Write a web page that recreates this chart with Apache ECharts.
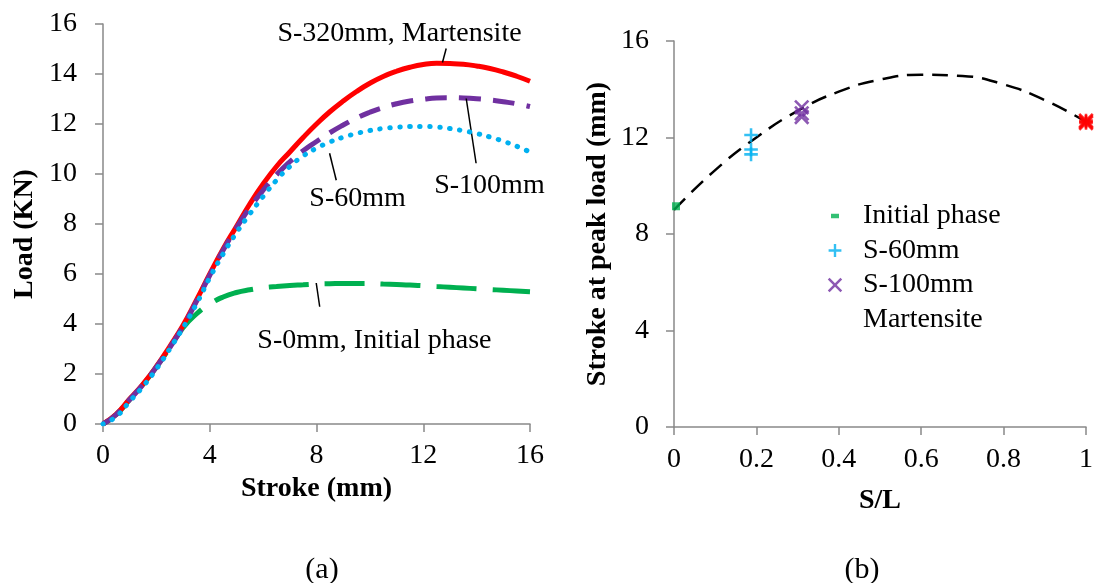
<!DOCTYPE html>
<html>
<head>
<meta charset="utf-8">
<script src="https://cdn.jsdelivr.net/npm/echarts@6/dist/echarts.min.js"></script>
<style>
html,body{margin:0;padding:0;background:#fff;}
#chart{width:1096px;height:583px;}
</style>
</head>
<body>
<div id="chart"></div>
<script>
// ---------- (a) Load vs stroke ----------
var strokeMm = [0,0.5,1,1.5,2,2.5,3,3.5,4,4.5,5,5.5,6,6.5,7,7.5,8,8.5,9,9.5,10,10.5,11,11.5,12,12.5,13,13.5,14,14.5,15,15.5,16];
var loadS320 = [0,0.4,1.0,1.6,2.3,3.1,3.95,4.95,6.0,7.0,7.9,8.8,9.6,10.3,10.88,11.46,12.0,12.49,12.92,13.3,13.63,13.9,14.11,14.27,14.38,14.43,14.42,14.39,14.32,14.22,14.08,13.91,13.71];
var loadS100 = [0,0.38,0.98,1.58,2.28,3.05,3.9,4.9,5.95,6.95,7.85,8.65,9.35,9.97,10.49,10.93,11.3,11.65,11.96,12.24,12.47,12.66,12.81,12.92,12.99,13.04,13.05,13.04,13.01,12.96,12.89,12.81,12.7];
var loadS60  = [0,0.3,0.9,1.5,2.2,3.0,3.85,4.8,5.85,6.8,7.65,8.4,9.1,9.75,10.3,10.72,11.03,11.28,11.47,11.62,11.74,11.82,11.87,11.9,11.9,11.88,11.82,11.73,11.62,11.48,11.31,11.11,10.88];
var loadS0   = [0,0.38,0.98,1.58,2.28,3.05,3.85,4.4,4.8,5.08,5.26,5.37,5.45,5.5,5.54,5.57,5.6,5.61,5.62,5.62,5.62,5.6,5.58,5.56,5.53,5.5,5.47,5.44,5.41,5.38,5.35,5.32,5.29];

// annotations of (a): text and anchor in data units, leader lines in data units
var annoText = ['S-320mm, Martensite','S-100mm','S-60mm','S-0mm, Initial phase'];
var annoAt   = [[11.11,15.61],[14.48,9.55],[9.54,9.03],[10.17,3.33]];
var leaderFrom = [[12.86,15.02],[13.61,13.02],[8.49,10.83],[7.99,5.64]];
var leaderTo   = [[12.72,14.46],[13.98,10.43],[8.74,9.75],[8.12,4.69]];

// ---------- (b) Stroke at peak load vs S/L ----------
var initX = [0];                 var initY = [9.15];
var s60X  = [0.187,0.187,0.187]; var s60Y  = [12.1,11.5,11.3];
var s100X = [0.31,0.31,0.31];    var s100Y = [13.25,13.0,12.85];
var martX = [1,1,1];             var martY = [12.7,12.6,12.65];
var trendX = [0,0.1,0.2,0.3,0.4,0.5,0.6,0.7,0.8,0.9,1.0];
var trendY = [9.0,10.65,12.0,13.1,13.9,14.4,14.6,14.55,14.2,13.55,12.65];
var legendNames = ['Initial phase','S-60mm','S-100mm','Martensite'];

function pairs(xs, ys){ return xs.map(function(x,i){ return [x, ys[i]]; }); }

var FONT = '"Liberation Serif","Times New Roman",serif';
var AXIS_COLOR = '#898989';

var PLUS = 'M8.5,2H11.5V8.5H18V11.5H11.5V18H8.5V11.5H2V8.5H8.5Z';
var CROSS = 'M1,3.2L3.2,1L10,7.8L16.8,1L19,3.2L12.2,10L19,16.8L16.8,19L10,12.2L3.2,19L1,16.8L7.8,10Z';
var symPlus = 'path://M0,0M20,20' + PLUS;
var symCross = 'path://M0,0M20,20' + CROSS;
var symStar = 'path://M0,0M20,20' + PLUS + CROSS;
var symDash = 'path://M0,0M20,20M5,7.2H15V12.8H5Z';

function axisCommon(){
  return {
    axisLine:{show:true, onZero:false, lineStyle:{color:AXIS_COLOR, width:1.5}},
    axisTick:{show:true, inside:false, length:8, lineStyle:{color:AXIS_COLOR, width:1.5}},
    splitLine:{show:false},
    nameTextStyle:{fontFamily:FONT, fontSize:28, fontWeight:'bold', color:'#000'}
  };
}

var xa0 = axisCommon();
Object.assign(xa0, {type:'value', gridIndex:0, min:0, max:16, interval:4,
  name:'Stroke (mm)', nameLocation:'middle', nameGap:46,
  axisLabel:{fontFamily:FONT, fontSize:28, color:'#000', margin:18}});
var ya0 = axisCommon();
Object.assign(ya0, {type:'value', gridIndex:0, min:0, max:16, interval:2,
  name:'Load (KN)', nameLocation:'middle', nameGap:64,
  axisLabel:{fontFamily:FONT, fontSize:28, color:'#000', margin:26}});
ya0.nameTextStyle = Object.assign({}, ya0.nameTextStyle, {padding:[0,20,0,0]});
var xa1 = axisCommon();
Object.assign(xa1, {type:'value', gridIndex:1, min:0, max:1, interval:0.2,
  name:'S/L', nameLocation:'middle', nameGap:60,
  axisLabel:{fontFamily:FONT, fontSize:28, color:'#000', margin:19}});
var ya1 = axisCommon();
Object.assign(ya1, {type:'value', gridIndex:1, min:0, max:16, interval:4,
  name:'Stroke at peak load (mm)', nameLocation:'middle', nameGap:62,
  axisLabel:{fontFamily:FONT, fontSize:28, color:'#000', margin:25}});

var textStyleBase = {fontFamily:FONT, fontSize:28, color:'#000'};

var option = {
  animation:false,
  backgroundColor:'#fff',
  title:[
    {text:'(a)', left:317, top:550, textAlign:'center', textStyle:{fontFamily:FONT, fontSize:30, fontWeight:'normal', color:'#000'}},
    {text:'(b)', left:857, top:550, textAlign:'center', textStyle:{fontFamily:FONT, fontSize:30, fontWeight:'normal', color:'#000'}}
  ],
  grid:[
    {left:103, top:24, width:427, height:400},
    {left:674, top:41, width:418, height:386}
  ],
  xAxis:[xa0, xa1],
  yAxis:[ya0, ya1],
  legend:{
    orient:'vertical', left:827, top:202, padding:0, itemGap:6.5,
    itemWidth:16, itemHeight:16,
    textStyle:{fontFamily:FONT, fontSize:28, color:'#000', lineHeight:28, padding:[0,0,0,15]},
    selectedMode:false,
    data:[
      {name:legendNames[0], icon:symDash},
      {name:legendNames[1], icon:symPlus},
      {name:legendNames[2], icon:symCross},
      {name:legendNames[3], icon:symStar, itemStyle:{opacity:0}}
    ]
  },
  series:[
    {type:'line', name:'S-0mm', xAxisIndex:0, yAxisIndex:0, data:pairs(strokeMm, loadS0),
      smooth:0.5, showSymbol:false, z:2,
      lineStyle:{color:'#00b050', width:5, type:[40,16], cap:'butt'}},
    {type:'line', name:'S-320mm', xAxisIndex:0, yAxisIndex:0, data:pairs(strokeMm, loadS320),
      smooth:0.5, showSymbol:false, z:3,
      lineStyle:{color:'#ff0000', width:5, type:'solid'},
      markLine:{silent:true, symbol:['none','none'], animation:false,
        lineStyle:{color:'#000', width:1.5, type:'solid'}, label:{show:false},
        emphasis:{disabled:true},
        data: leaderFrom.map(function(p,i){ return [{coord:p},{coord:leaderTo[i]}]; })},
      markPoint:{silent:true, animation:false,
        data: annoText.map(function(t,i){
          return {coord:annoAt[i], value:t, symbol:'rect', symbolSize:1,
            itemStyle:{color:'rgba(0,0,0,0)'},
            label:Object.assign({show:true, position:'inside', formatter:t}, textStyleBase)};
        })}
    },
    {type:'line', name:'S-100mm line', xAxisIndex:0, yAxisIndex:0, data:pairs(strokeMm, loadS100),
      smooth:0.5, showSymbol:false, z:4,
      lineStyle:{color:'#7030a0', width:5, type:[22,12]}},
    {type:'line', name:'S-60mm line', xAxisIndex:0, yAxisIndex:0, data:pairs(strokeMm, loadS60),
      smooth:0.5, showSymbol:false, z:5,
      lineStyle:{color:'#00b0f0', width:5, type:[0.5,9.5], cap:'round'}},

    {type:'line', name:'trend', xAxisIndex:1, yAxisIndex:1, data:pairs(trendX, trendY),
      smooth:true, showSymbol:false, z:2,
      lineStyle:{color:'#000', width:2.5, type:[16,9]}},
    {type:'scatter', name:legendNames[0], xAxisIndex:1, yAxisIndex:1, data:pairs(initX, initY),
      symbol:'rect', symbolSize:8, symbolOffset:[2,0], itemStyle:{color:'#00b050'}, z:3},
    {type:'scatter', name:legendNames[1], xAxisIndex:1, yAxisIndex:1, data:pairs(s60X, s60Y),
      symbol:symPlus, symbolSize:17, itemStyle:{color:'#00b0f0'}, z:3},
    {type:'scatter', name:legendNames[2], xAxisIndex:1, yAxisIndex:1, data:pairs(s100X, s100Y),
      symbol:symCross, symbolSize:17, itemStyle:{color:'#7030a0'}, z:3},
    {type:'scatter', name:legendNames[3], xAxisIndex:1, yAxisIndex:1, data:pairs(martX, martY),
      symbol:symStar, symbolSize:17, itemStyle:{color:'#ff0000'}, z:3, clip:false}
  ]
};

var chart = echarts.init(document.getElementById('chart'), null, {renderer:'canvas'});
chart.setOption(option);
</script>
</body>
</html>
